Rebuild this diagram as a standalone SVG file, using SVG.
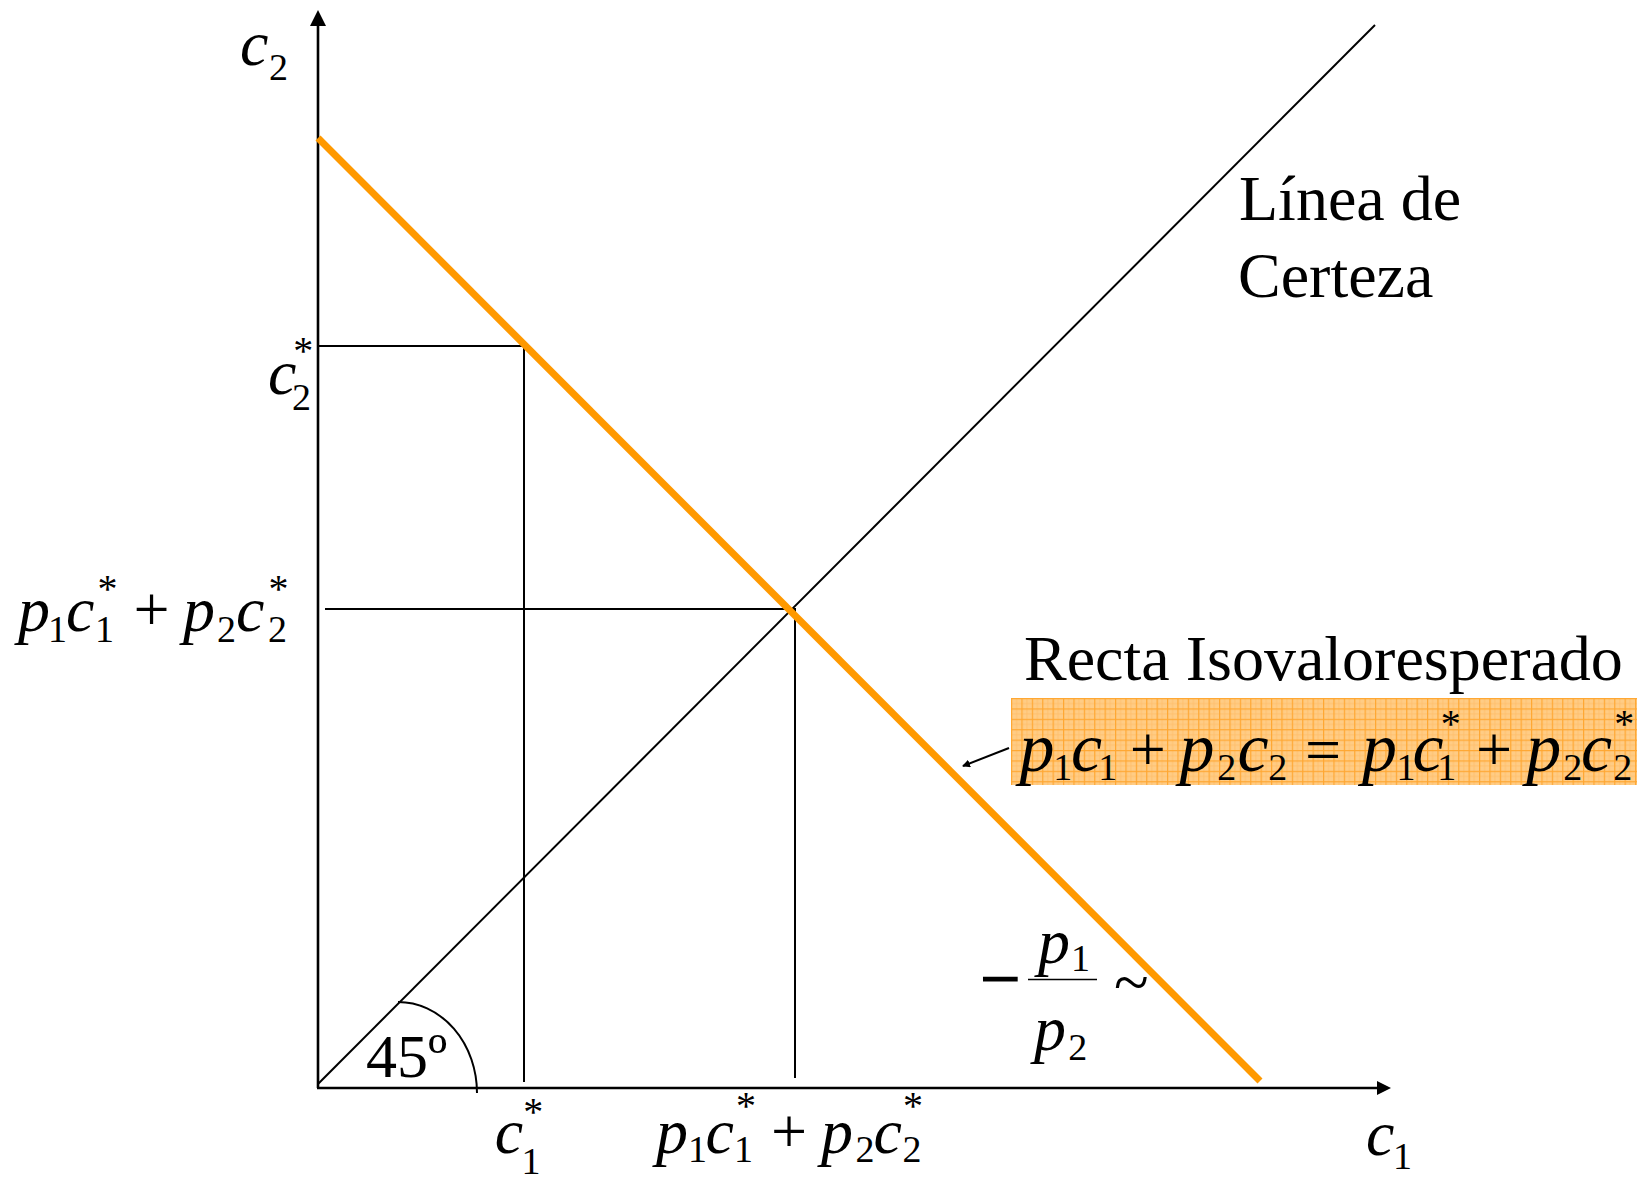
<svg xmlns="http://www.w3.org/2000/svg" width="1637" height="1178" viewBox="0 0 1637 1178">
<style>
.t{font-family:"Liberation Serif","Times New Roman",serif;fill:#000}
.i{font-style:italic}
.m{font-size:64px}
.b{font-size:70px}
.s{font-size:38px}
.a{font-size:40px}
.ln{stroke:#000;stroke-width:2;fill:none}
.ax{stroke:#000;stroke-width:2.6;fill:none}
.or{stroke:#FF9900;stroke-width:7;fill:none}
</style>
<defs>
<pattern id="grid" x="1011" y="698" width="10.4" height="10.4" patternUnits="userSpaceOnUse">
<rect width="10.4" height="10.4" fill="#FFCC85"/>
<rect x="5.2" y="0" width="0.8" height="10.4" fill="#FFBE6A"/>
<rect x="0" y="5.2" width="10.4" height="0.8" fill="#FFBE6A"/>
<rect x="0" y="0" width="1.2" height="10.4" fill="#FFA732"/>
<rect x="0" y="0" width="10.4" height="1.2" fill="#FFA732"/>
</pattern>
<marker id="ah" markerWidth="8" markerHeight="8" refX="7" refY="4" orient="auto" markerUnits="userSpaceOnUse">
<path d="M0,0 L8,4 L0,8 Z" fill="#000"/>
</marker>
</defs>
<rect width="1637" height="1178" fill="#fff"/>

<g id="connectors">
<line class="ax" x1="318" y1="1088" x2="318" y2="22"/>
<polygon points="318,10 310,26 326,26" fill="#000"/>
<line class="ax" x1="317" y1="1088" x2="1379" y2="1088"/>
<polygon points="1391,1088 1377,1081 1377,1095" fill="#000"/>
<line class="ln" x1="318" y1="1084" x2="1375" y2="25"/>
<polyline class="ln" points="318,346 524,346 524,1082"/>
<polyline class="ln" points="325,609 795,609 795,1078"/>
<path class="ln" d="M398,1002 A79,91 0 0 1 477,1093"/>
<line class="or" x1="318" y1="138" x2="1260" y2="1081"/>
<line x1="1009" y1="748" x2="963" y2="766" stroke="#000" stroke-width="2" marker-end="url(#ah)"/>
</g>

<g id="box">
<rect x="1011" y="698" width="626" height="87" fill="url(#grid)"/>
</g>

<g id="label-c2">
<text class="t i m" x="240" y="65">c</text>
<text class="t s" x="269" y="80">2</text>
</g>

<g id="label-c2star">
<text class="t i m" x="268" y="394">c</text>
<text class="t s" x="292" y="410">2</text>
<text class="t a" x="293.3" y="364">*</text>
</g>

<g id="label-left-sum">
<text class="t i m" x="18" y="631">p</text>
<text class="t s" x="48" y="642">1</text>
<text class="t i m" x="66" y="631">c</text>
<text class="t s" x="95" y="642">1</text>
<text class="t a" x="97.5" y="602">*</text>
<text class="t m" x="133.5" y="631">+</text>
<text class="t i m" x="183" y="631">p</text>
<text class="t s" x="217" y="642">2</text>
<text class="t i m" x="236" y="631">c</text>
<text class="t s" x="268" y="642">2</text>
<text class="t a" x="268.5" y="602">*</text>
</g>

<g id="label-linea">
<text class="t m" x="1239" y="220">Línea de</text>
<text class="t m" x="1238" y="297">Certeza</text>
</g>

<g id="label-recta">
<text class="t m" x="1024" y="680">Recta Isovaloresperado</text>
</g>

<g id="label-equation">
<text class="t i b" x="1019.5" y="771">p</text>
<text class="t s" x="1053.2" y="780">1</text>
<text class="t i b" x="1071" y="771">c</text>
<text class="t s" x="1098.2" y="780">1</text>
<text class="t m" x="1129.7" y="771">+</text>
<text class="t i b" x="1179.5" y="771">p</text>
<text class="t s" x="1217.3" y="780">2</text>
<text class="t i b" x="1237.6" y="771">c</text>
<text class="t s" x="1268.2" y="780">2</text>
<text class="t m" x="1305" y="771">=</text>
<text class="t i b" x="1362" y="771">p</text>
<text class="t s" x="1396.5" y="780">1</text>
<text class="t i b" x="1412.6" y="771">c</text>
<text class="t s" x="1437.3" y="780">1</text>
<text class="t a" x="1440.8" y="737">*</text>
<text class="t m" x="1476" y="771">+</text>
<text class="t i b" x="1526.2" y="771">p</text>
<text class="t s" x="1563.2" y="780">2</text>
<text class="t i b" x="1581" y="771">c</text>
<text class="t s" x="1613.2" y="780">2</text>
<text class="t a" x="1614.2" y="737">*</text>
</g>

<g id="label-slope">
<text class="t" x="980" y="1003" font-size="72" stroke="#000" stroke-width="1.2">−</text>
<line x1="1028" y1="979.5" x2="1097" y2="979.5" stroke="#000" stroke-width="1.5"/>
<text class="t i m" x="1038" y="963">p</text>
<text class="t s" x="1071" y="971">1</text>
<text class="t i m" x="1034" y="1050">p</text>
<text class="t s" x="1068.3" y="1060">2</text>
<text class="t m" x="1114" y="1004">~</text>
</g>

<g id="label-45">
<text class="t" x="366" y="1077" font-size="62">45º</text>
</g>

<g id="label-c1star">
<text class="t i m" x="494.8" y="1153">c</text>
<text class="t s" x="521.5" y="1174">1</text>
<text class="t a" x="523.3" y="1125">*</text>
</g>

<g id="label-bottom-sum">
<text class="t i m" x="656" y="1153">p</text>
<text class="t s" x="688" y="1162">1</text>
<text class="t i m" x="705.5" y="1153">c</text>
<text class="t s" x="734" y="1162">1</text>
<text class="t a" x="736" y="1119">*</text>
<text class="t m" x="771" y="1153">+</text>
<text class="t i m" x="821" y="1153">p</text>
<text class="t s" x="855.5" y="1162">2</text>
<text class="t i m" x="873.5" y="1153">c</text>
<text class="t s" x="902.5" y="1162">2</text>
<text class="t a" x="903" y="1119">*</text>
</g>

<g id="label-c1">
<text class="t i m" x="1366" y="1155">c</text>
<text class="t s" x="1393" y="1169">1</text>
</g>
</svg>
